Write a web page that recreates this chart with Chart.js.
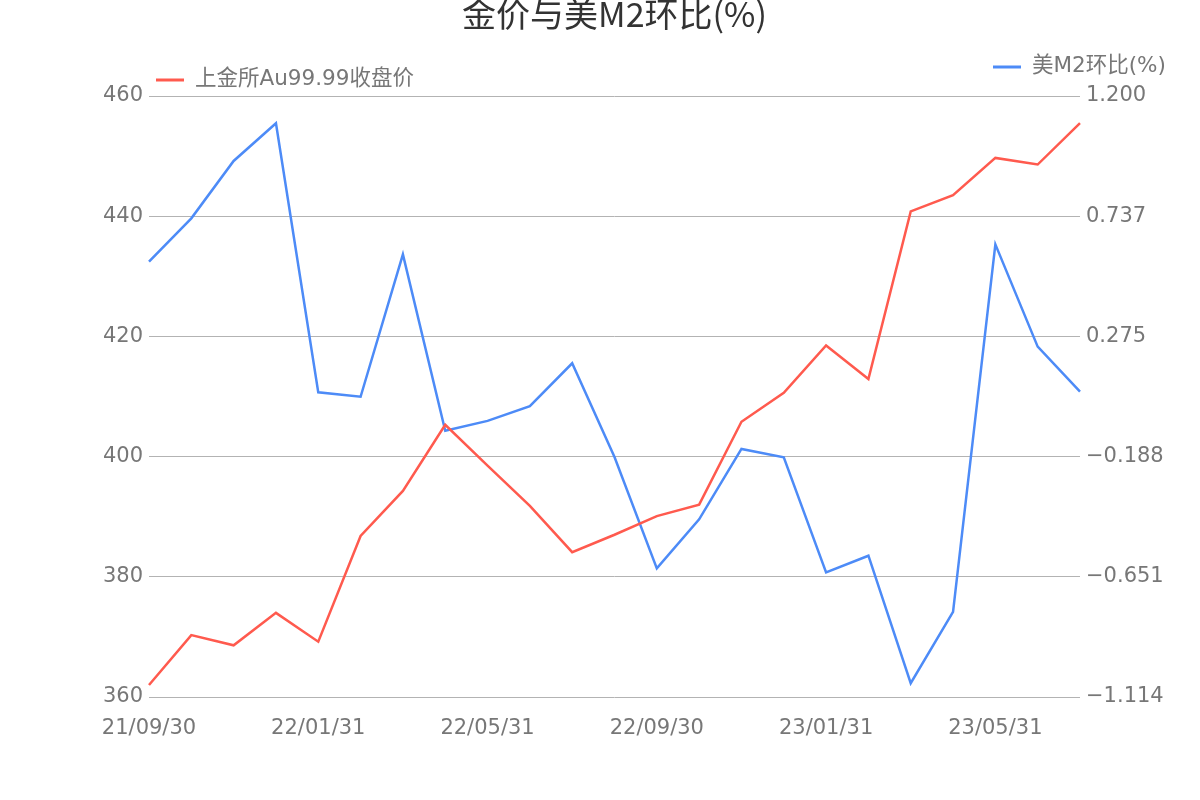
<!DOCTYPE html>
<html>
<head>
<meta charset="utf-8">
<script src="https://cdn.jsdelivr.net/npm/chart.js@4/dist/chart.umd.min.js"></script>
<style>
  html, body { margin: 0; padding: 0; background: #fff; }
  #grafico { display: block; }
</style>
</head>
<body>
<canvas id="grafico" width="1200" height="800"></canvas>
<script>
// datos
const fechas = ['21/09/30', '21/10/31', '21/11/30', '21/12/31', '22/01/31', '22/02/28', '22/03/31', '22/04/30',
    '22/05/31', '22/06/30', '22/07/31', '22/08/31', '22/09/30', '22/10/31', '22/11/30', '22/12/31',
    '23/01/31', '23/02/28', '23/03/31', '23/04/30', '23/05/31', '23/06/30', '23/07/31'];
const precioOro = [362.0, 370.3, 368.6, 374.0, 369.2, 386.8, 394.3, 405.3, 398.5, 391.8, 384.1, 387.0,
    390.1, 392.0, 405.8, 410.6, 418.5, 412.9, 440.8, 443.5, 449.7, 448.6, 455.5];
const m2Mensual = [0.562, 0.729, 0.950, 1.095, 0.059, 0.042, 0.590, -0.089, -0.051, 0.006, 0.171, -0.190,
    -0.619, -0.430, -0.159, -0.191, -0.634, -0.570, -1.061, -0.786, 0.629, 0.235, 0.062];
const ticksIzquierda = [360, 380, 400, 420, 440, 460];
const ticksDerecha = [-1.114, -0.651, -0.188, 0.275, 0.737, 1.200];

const rojo = '#ff5a4e';
const azul = '#4d8bf7';
const gris = '#777777';

Chart.defaults.font.family = "'DejaVu Sans', 'Noto Sans CJK SC', sans-serif";
Chart.defaults.font.size = 21;
Chart.defaults.color = gris;

// leyendas separadas, una a cada lado
const leyendas = {
    id: 'leyendas',
    afterDraw(chart) {
        const ctx = chart.ctx;
        const items = [
            { ds: chart.data.datasets[0], x: 156, y: 80 },
            { ds: chart.data.datasets[1], x: 993, y: 67 }
        ];
        ctx.save();
        ctx.font = "21.5px 'DejaVu Sans', 'Noto Sans CJK SC', sans-serif";
        ctx.textBaseline = 'middle';
        items.forEach(it => {
            ctx.strokeStyle = it.ds.borderColor;
            ctx.lineWidth = 3;
            ctx.beginPath();
            ctx.moveTo(it.x, it.y);
            ctx.lineTo(it.x + 28, it.y);
            ctx.stroke();
            ctx.fillStyle = gris;
            ctx.fillText(it.ds.label, it.x + 39, it.y - 1);
        });
        ctx.restore();
    }
};

const formatoDerecha = v => v.toFixed(3).replace('-', '\u2212');

new Chart(document.getElementById('grafico'), {
    type: 'line',
    data: {
        labels: fechas,
        datasets: [{
            label: '上金所Au99.99收盘价',
            data: precioOro,
            borderColor: rojo,
            borderWidth: 2.5,
            pointRadius: 0,
            tension: 0,
            yAxisID: 'y'
        }, {
            label: '美M2环比(%)',
            data: m2Mensual,
            borderColor: azul,
            borderWidth: 2.5,
            pointRadius: 0,
            tension: 0,
            yAxisID: 'y1'
        }]
    },
    options: {
        responsive: false,
        animation: false,
        layout: { padding: 0 },
        plugins: {
            legend: { display: false },
            tooltip: { enabled: false },
            title: {
                display: true,
                text: '金价与美M2环比(%)',
                color: '#333333',
                fullSize: false,
                font: { size: 34, weight: 'normal', lineHeight: 0.824, family: "'Noto Sans CJK SC', sans-serif" },
                padding: { top: 0, bottom: 68 }
            }
        },
        scales: {
            x: {
                offset: false,
                grid: { display: false, drawTicks: false },
                border: { display: false },
                ticks: {
                    autoSkip: false,
                    maxRotation: 0,
                    padding: 19,
                    callback: (v, i) => i % 4 === 0 ? fechas[i] : ''
                },
                afterFit: s => { s.height = 103; }
            },
            y: {
                position: 'left',
                min: 360,
                max: 460,
                grid: { color: '#b3b3b3', lineWidth: 1, drawTicks: false },
                border: { display: false },
                ticks: { padding: 6 },
                afterBuildTicks: s => { s.ticks = ticksIzquierda.map(v => ({ value: v })); },
                afterFit: s => { s.width = 149; }
            },
            y1: {
                position: 'right',
                min: ticksDerecha[0],
                max: ticksDerecha[ticksDerecha.length - 1],
                grid: { drawOnChartArea: false, drawTicks: false },
                border: { display: false },
                ticks: { padding: 6, callback: v => formatoDerecha(v) },
                afterBuildTicks: s => { s.ticks = ticksDerecha.map(v => ({ value: v })); },
                afterFit: s => { s.width = 120; }
            }
        }
    },
    plugins: [leyendas]
});
</script>
</body>
</html>
